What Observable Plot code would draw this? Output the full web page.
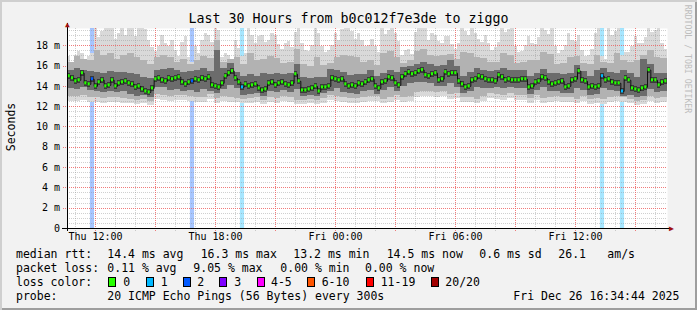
<!DOCTYPE html>
<html><head><meta charset="utf-8">
<script src="https://cdn.jsdelivr.net/npm/d3@7"></script>
<script src="https://cdn.jsdelivr.net/npm/@observablehq/plot@0.6"></script>
<style>
html,body{margin:0;padding:0;background:#fff;}
#wrap{position:relative;width:697px;height:310px;background:#f2f2f2;box-shadow:inset 2px 2px 0 #cfcfcf, inset -2px -2px 0 #9e9e9e;overflow:hidden;font-family:"DejaVu Sans Mono",monospace;color:#000;}
.t{position:absolute;white-space:pre;font-size:11.5px;line-height:14px;}
.box{position:absolute;width:8px;height:10px;box-sizing:border-box;border:1px solid #000;}
#plot{position:absolute;left:0;top:0;}
</style></head><body><div id="wrap"><div id="plot"></div></div>
<script>
// ---------- data ----------
const titleText = "Last 30 Hours from b0c012f7e3de to ziggo";
const yLabel = "Seconds";
const creditText = "RRDTOOL / TOBI OETIKER";
// median RTT (ms), one value per 10 minutes
const medianRtt = [
 15.0,14.8,14.5,14.6,15.3,14.3,14.2,14.7,14.0,14.4,
 14.6,14.0,14.1,14.6,14.0,14.3,14.4,14.5,14.3,14.2,
 13.9,14.0,13.7,13.5,13.4,13.8,14.7,14.8,14.6,14.5,
 14.8,14.7,14.8,14.9,14.4,14.2,14.4,14.5,14.7,14.6,
 14.8,14.7,14.9,14.1,14.0,13.9,14.3,15.0,15.3,15.5,
 14.8,14.4,13.9,14.2,14.0,14.1,14.2,13.8,13.6,13.7,
 14.3,14.4,14.1,14.3,14.4,14.2,14.1,14.3,15.2,14.5,
 13.6,13.6,13.7,13.8,14.0,13.5,13.9,13.9,14.0,14.8,
 14.7,14.6,14.7,14.2,14.0,
 14.1,14.0,14.3,14.2,14.4,14.6,14.7,14.0,13.8,14.4,
 14.5,14.9,14.8,14.3,14.1,14.9,15.2,15.4,15.2,15.3,
 15.5,15.6,15.1,15.0,15.2,15.3,14.6,14.7,15.4,15.2,
 15.3,15.3,14.5,14.2,13.9,14.0,14.6,14.7,15.0,14.9,
 14.7,14.6,14.6,14.5,15.1,14.9,14.6,14.7,14.6,14.6,
 14.6,14.7,14.7,13.9,14.0,14.4,14.5,14.9,14.8,14.4,
 14.2,14.3,14.4,14.5,13.9,14.0,14.6,14.7,15.5,14.6,
 14.5,13.9,14.0,13.9,14.0,15.0,14.6,14.7,14.4,14.3,
 14.3,13.5,14.8,14.6,13.8,13.7,13.6,13.8,13.9,15.6,
 14.6,14.6,14.1,14.4,14.5
];
// highest ping (ms), one value per 10 minutes
const maxRtt = [
 16.9,16.4,17.0,17.4,17.2,16.6,16.9,17.2,21,18.8,
 19.4,21,21,20.2,18.6,19.2,21,19.0,21,21,
 18.9,21,21,19.6,18.5,17.8,17.4,17.9,19.0,18.2,
 17.9,18.5,17.5,16.9,18.3,18.9,16.8,16.4,17.9,17.2,
 18.5,19.2,19.0,18.3,21,19.5,16.8,17.2,17.0,16.5,
 18.5,17.7,16.9,17.2,21,19.0,18.2,18.9,19.0,18.3,
 18.5,19.2,19.0,18.1,17.6,18.2,18.4,17.8,19.3,21,
 18.2,17.5,17.4,18.0,21,19.2,17.9,17.3,17.5,18.0,
 19.2,18.5,19.6,21,21,19.4,
 18.6,19.2,18.5,17.9,18.0,18.6,17.9,17.3,21,19.1,
 19.5,21,19.2,18.4,17.0,17.5,17.6,17.1,19.3,21,
 21,20.0,18.5,19.2,19.0,18.4,18.2,18.9,18.9,18.1,
 17.6,18.2,21,19.4,19.0,21,19.2,18.6,18.3,19.0,
 18.2,17.5,17.8,18.3,21,19.3,19.6,21,17.9,17.3,
 17.4,18.0,18.9,18.2,18.1,18.8,21,19.5,19.1,21,
 17.9,17.2,17.5,18.0,19.2,18.5,18.4,19.0,17.5,16.9,
 17.0,17.6,19.2,21,16.9,16.6,21,19.0,19.4,21,
 17.0,17.3,17.3,17.9,18.9,18.2,18.2,18.8,21,19.3,
 19.5,21,18.2,17.6
];
// lost pings (of 20) at these 10-minute slots
const lossSlot = [7, 37, 52, 160, 166];
const lossCount = [2, 2, 1, 1, 1];
// smoke percentiles (ms), one value per 20 minutes
const minRtt = [
 12.5,12.5,12.6,12.4,12.4,12.3,12.4,12.4,12.3,12.3,
 12.2,12.3,12.1,12.7,12.6,12.5,12.6,12.6,12.5,12.4,
 12.4,12.7,12.3,12.5,12.4,12.4,12.3,12.3,12.4,12.2,
 12.4,12.3,12.5,12.4,12.2,12.2,12.3,12.2,12.3,12.6,
 12.5,12.4,12.3,
 12.3,12.4,12.5,12.5,12.3,12.4,12.6,12.4,12.5,12.9,
 13.0,13.0,12.9,13.0,12.7,12.8,12.4,12.4,12.3,12.5,
 12.8,12.7,12.6,12.8,12.6,12.6,12.3,12.6,12.3,12.4,
 12.5,12.4,12.4,12.3,12.5,12.2,12.3,12.2,12.4,12.5,
 12.4,12.3,12.1,12.2,12.5,12.3,12.4
];
const p10Rtt = [
 13.0,13.0,13.1,12.9,12.9,12.8,12.9,12.9,12.8,12.7,
 12.6,12.7,12.5,13.2,13.1,13.0,13.1,13.1,13.0,12.9,
 12.9,13.2,12.8,13.0,12.9,12.8,12.7,12.8,12.9,12.6,
 12.9,12.8,13.0,12.9,12.6,12.6,12.7,12.6,12.8,13.1,
 13.0,12.9,12.8,
 12.8,12.9,13.0,13.0,12.7,12.9,13.1,12.9,13.0,13.4,
 13.5,13.5,13.4,13.5,13.2,13.3,12.9,12.9,12.7,13.0,
 13.3,13.2,13.1,13.3,13.1,13.1,12.8,13.1,12.8,12.9,
 13.0,12.9,12.9,12.7,13.0,12.7,12.8,12.7,12.9,13.0,
 12.9,12.7,12.5,12.6,13.0,12.8,12.9
];
const p25Rtt = [
 13.8,13.7,13.9,13.6,13.5,13.4,13.5,13.4,13.5,13.2,
 13.0,13.1,12.9,13.9,13.9,13.6,13.7,13.5,13.6,13.4,
 13.7,13.5,13.3,13.7,14.1,13.8,13.1,13.2,13.3,13.0,
 13.5,13.4,13.6,13.4,13.7,13.0,13.1,13.0,13.3,13.5,
 13.8,13.4,13.3,
 13.2,13.5,13.6,13.2,13.6,13.9,13.5,14.0,14.3,14.4,
 14.4,14.3,14.0,14.0,14.3,13.9,13.3,13.5,13.9,13.8,
 13.8,13.9,13.8,13.9,13.8,13.8,13.2,13.6,13.9,13.5,
 13.5,13.3,13.3,13.8,13.6,13.1,13.2,13.8,13.6,13.5,
 13.0,13.1,12.9,13.0,13.7,13.4,13.5
];
const p75Rtt = [
 15.6,15.8,15.6,15.5,15.4,15.3,15.5,15.4,15.4,15.3,
 15.2,14.9,14.8,15.6,15.7,15.8,15.6,15.4,15.5,15.6,
 15.8,15.5,17.5,15.8,16.3,15.4,15.0,15.2,15.0,15.3,
 15.2,15.3,15.2,15.3,16.2,14.9,14.8,14.9,14.9,15.7,
 15.6,15.4,15.1,
 15.2,15.2,15.6,15.0,15.3,15.6,15.4,15.9,16.0,16.2,
 16.4,16.2,16.0,16.1,16.5,16.0,15.0,15.4,15.8,15.6,
 15.5,15.6,15.8,15.6,15.6,15.6,15.0,15.3,15.7,15.3,
 15.3,15.2,15.3,16.1,15.5,15.0,15.6,15.8,15.4,15.3,
 15.6,15.3,14.9,16.6,16.2,15.3,15.3
];
const p90Rtt = [
 16.4,16.9,16.6,16.5,17.5,17.0,17.2,16.6,17.0,17.2,
 16.8,16.5,16.2,16.8,17.0,16.8,16.4,16.6,16.2,16.5,
 16.9,16.7,18.5,16.4,16.6,16.8,16.2,17.2,16.5,16.6,
 16.9,16.7,16.3,16.4,17.6,16.2,16.0,16.8,16.1,16.3,
 16.8,17.0,16.9,
 16.8,16.4,16.5,16.1,17.2,17.4,16.8,16.3,16.5,17.4,
 17.6,17.0,16.9,17.0,17.1,16.6,17.3,17.2,16.8,16.7,
 16.4,16.4,17.2,17.0,16.3,16.4,16.5,16.5,17.3,17.1,
 16.2,16.3,16.8,16.9,16.3,16.2,17.0,16.4,16.3,17.2,
 16.5,16.4,16.5,17.0,17.5,16.8,16.7
];
const yTicks = [0,2,4,6,8,10,12,14,16,18];
const xTickLabels = ["Thu 12:00","Thu 18:00","Fri 00:00","Fri 06:00","Fri 12:00"];
const lossLabels = ["0","1","2","3","4-5","6-10","11-19","20/20"];
const lossColors = ["#26ff00","#00b8ff","#0059ff","#7e00ff","#ff00ff","#ff5500","#ff0000","#a10000"];
const rttStats = ["14.4 ms avg","16.3 ms max","13.2 ms min","14.5 ms now","0.6 ms sd","26.1","am/s"];
const lossStats = ["0.11 % avg","9.05 % max","0.00 % min","0.00 % now"];
const probeText = "20 ICMP Echo Pings (56 Bytes) every 300s";
const dateText = "Fri Dec 26 16:34:44 2025";

// ---------- build ----------
const start = new Date(2025, 11, 25, 10, 36);
const end = new Date(+start + 30 * 3600e3);
const xTicks = [new Date(2025,11,25,12), new Date(2025,11,25,18), new Date(2025,11,26,0), new Date(2025,11,26,6), new Date(2025,11,26,12)];
const yMax = 19.7;
const M10 = 600e3, M20 = 1200e3;
function lossColor(n){ return n <= 3 ? lossColors[n] : n <= 5 ? lossColors[4] : n <= 10 ? lossColors[5] : n < 20 ? lossColors[6] : lossColors[7]; }
const medRows = medianRtt.map((m, i) => {
  const k = lossSlot.indexOf(i);
  return {t0: new Date(+start + i*M10), t1: new Date(+start + (i+1)*M10), m,
          lo: minRtt[Math.min(Math.floor(i/2), minRtt.length-1)], hi: maxRtt[i],
          loss: k >= 0 ? lossCount[k] : 0};
});
const lossRows = medRows.filter(d => d.loss > 0);
const n = Math.min(minRtt.length, p10Rtt.length, p25Rtt.length, p75Rtt.length, p90Rtt.length);
const bandRows = d3.range(n).map(j => ({t0: new Date(+start + j*M20), t1: new Date(+start + (j+1)*M20),
  p10: p10Rtt[j], p25: p25Rtt[j], p75: p75Rtt[j], p90: p90Rtt[j]}));
const hours = d3.timeHour.range(start, end);
const majorHours = hours.filter(d => d.getHours() % 3 === 0);
const minorHours = hours.filter(d => d.getHours() % 3 !== 0);
const ySteps = d3.range(1, Math.floor(yMax*2)+1).map(k => k/2);
const majorY = ySteps.filter(v => v % 2 === 0);
const minorY = ySteps.filter(v => v % 2 !== 0);

const gridMinor = {stroke:"#8f8f8f", strokeOpacity:0.42, strokeDasharray:"1,1", shapeRendering:"crispEdges"};
const gridMajor = {stroke:"#ee5a5a", strokeOpacity:0.8, strokeDasharray:"1,1", shapeRendering:"crispEdges"};
const band = (lo, hi, fill) => Plot.rect(bandRows, {x1:"t0", x2:"t1", y1:lo, y2:hi, fill, clip:true, shapeRendering:"crispEdges"});

const chart = Plot.plot({
  width: 697, height: 245,
  marginLeft: 67, marginRight: 30, marginTop: 28, marginBottom: 17,
  x: {type: "time", domain: [start, end]},
  y: {domain: [0, yMax]},
  color: {type: "identity"},
  style: {background: "transparent", fontFamily: "'DejaVu Sans Mono', monospace", fontSize: "10px", color: "#000", overflow: "visible"},
  marks: [
    Plot.frame({fill: "#ffffff", stroke: null}),
    Plot.rect(lossRows, {x1:"t0", x2:"t1", fill: d => lossColor(d.loss), fillOpacity: 0.35, insetLeft: -0.4, insetRight: -0.4}),
    Plot.rect(medRows, {x1:"t0", x2:"t1", y1:"lo", y2:"hi", fill:"#d9d9d9", clip:true, shapeRendering:"crispEdges"}),
    Plot.ruleX(minorHours, {...gridMinor, insetBottom: -3}),
    Plot.ruleY(minorY, gridMinor),
    Plot.ruleX(majorHours, {...gridMajor, insetBottom: -3}),
    Plot.ruleY(majorY, {...gridMajor, insetLeft: -4}),
    band("p10", "p90", "#b2b2b2"),
    band("p25", "p75", "#6c6c6c"),
    Plot.rect(medRows, {x1:"t0", x2:"t1", y1: d => d.m - 0.3, y2: d => d.m + 0.3, fill: "#3a3a3a", shapeRendering:"crispEdges"}),
    Plot.line(medRows, {x: "t0", y: "m", curve: "step-after", stroke: "#111", strokeWidth: 1}),
    Plot.rect(medRows, {x1:"t0", x2:"t1", y1: d => d.m - 0.15, y2: d => d.m + 0.15, fill: d => lossColor(d.loss), insetLeft: 0.6, insetRight: 0.6}),
    Plot.ruleY([0], {stroke: "#000", insetLeft: -5, insetRight: -3, shapeRendering:"crispEdges"}),
    Plot.ruleX([start], {stroke: "#000", insetTop: -5, insetBottom: -3, shapeRendering:"crispEdges"}),
    Plot.text(["▲"], {text: d => d, frameAnchor: "top-left", textAnchor: "middle", lineAnchor: "middle", dy: -4, fill: "#a01010", fontSize: 8}),
    Plot.text(["▶"], {text: d => d, frameAnchor: "bottom-right", textAnchor: "middle", lineAnchor: "middle", dx: 4, fill: "#a01010", fontSize: 8}),
    Plot.axisY({ticks: yTicks, tickFormat: d => d === 0 ? "0" : `${d} m`, tickSize: 0, tickPadding: 7.5, label: null, fontSize: 10}),
    Plot.axisX({ticks: xTicks, tickFormat: (d) => xTickLabels[xTicks.findIndex(t => +t === +d)], tickSize: 0, tickPadding: 4, label: null, fontSize: 10})
  ]
});
document.getElementById("plot").appendChild(chart);

// ---------- text ----------
const wrap = document.getElementById("wrap");
function txt(s, x, cy, extra = {}) {
  const e = document.createElement("div");
  e.className = "t"; e.textContent = s;
  e.style.left = x + "px"; e.style.top = (cy - 7) + "px";
  Object.assign(e.style, extra);
  wrap.appendChild(e); return e;
}
txt(titleText, 0, 19, {width: "697px", textAlign: "center", fontSize: "13.3px", left: "0px", lineHeight: "14px"});
txt(yLabel, 0, 0, {left: "11px", top: "127px", transform: "translate(-50%,-50%) rotate(-90deg)", fontSize: "11.5px"});
txt(creditText, 0, 0, {left: "688px", top: "59px", transform: "translate(-50%,-50%) rotate(90deg)", fontSize: "8.2px", color: "#bdbdbd", lineHeight: "10px"});

const rowY = [254.3, 268.3, 282.3, 296];
txt("median rtt:", 16, rowY[0]);
[107.3, 200.7, 293.3, 386.7, 479.3, 558.3, 607.3].forEach((x, i) => txt(rttStats[i], x, rowY[0]));
txt("packet loss:", 16, rowY[1]);
[107.3, 193.3, 280.3, 365].forEach((x, i) => txt(lossStats[i], x, rowY[1]));
txt("loss color:", 16, rowY[2]);
const boxX = [108.3, 145.7, 182.7, 219.3, 256.7, 307.3, 365.7, 430.7];
const labX = [123.3, 160.7, 197.3, 234.3, 271, 321.7, 380.7, 445.3];
lossLabels.forEach((l, i) => {
  const b = document.createElement("div");
  b.className = "box"; b.style.left = boxX[i] + "px"; b.style.top = (rowY[2] - 5) + "px"; b.style.background = lossColors[i];
  wrap.appendChild(b);
  txt(l, labX[i], rowY[2]);
});
txt("probe:", 16, rowY[3]);
txt(probeText, 107.3, rowY[3]);
txt(dateText, 513.3, rowY[3]);
</script></body></html>
